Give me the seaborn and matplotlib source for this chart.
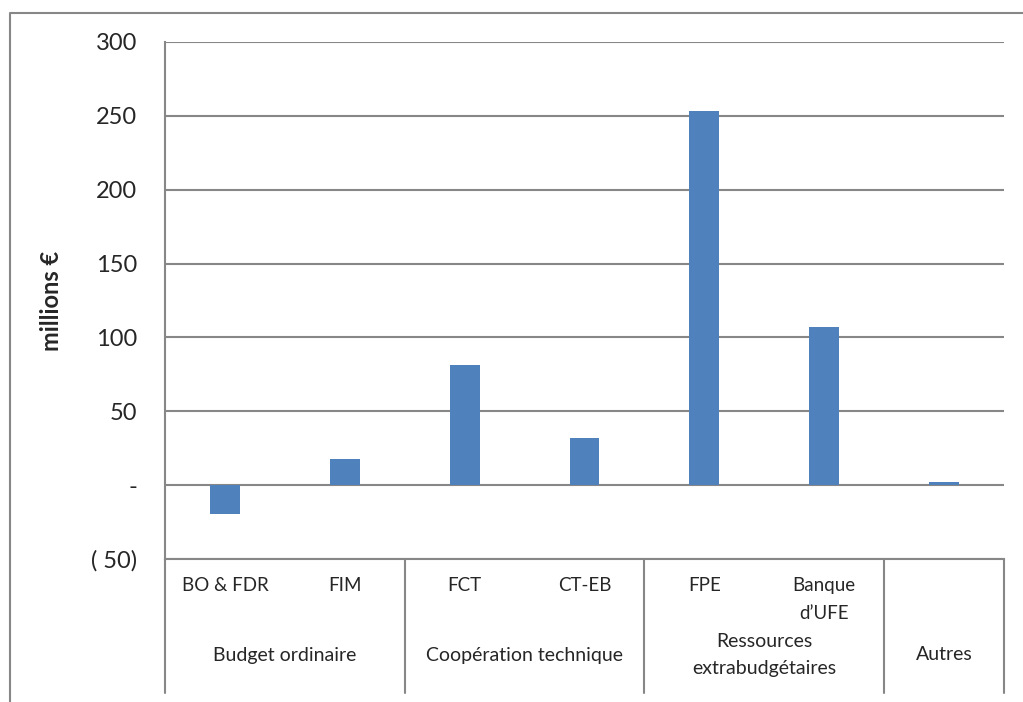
import matplotlib.pyplot as plt
import matplotlib.transforms as mtransforms
import pandas as pd
import seaborn as sns
from matplotlib.lines import Line2D

# chart data
categories = ["BO & FDR", "FIM", "FCT", "CT-EB", "FPE", "Banque\nd\u2019UFE", "Autres"]
tick_names = ["BO & FDR", "FIM", "FCT", "CT-EB", "FPE", "Banque\nd\u2019UFE", ""]
values = [-19.5, 18, 81.5, 32, 253.5, 107, 2]
groups = ["Budget ordinaire", "Coop\u00e9ration technique", "Ressources\nextrabudg\u00e9taires", "Autres"]
group_sizes = [2, 2, 2, 1]
y_ticks = [-50, 0, 50, 100, 150, 200, 250, 300]
y_tick_labels = ["( 50)", "-", "50", "100", "150", "200", "250", "300"]

sns.set_style("white")
plt.rcParams["font.family"] = ["Lato", "DejaVu Sans"]

grey = "#878787"
bar_color = "#4F81BD"

W, H = 1023, 702
fig = plt.figure(figsize=(W / 100, H / 100), dpi=100)
left, right, top, bottom = 165, 1004, 42, 559
ax = fig.add_axes([left / W, 1 - bottom / H, (right - left) / W, (bottom - top) / H])

df = pd.DataFrame({"cat": categories, "val": values})
sns.barplot(data=df, x="cat", y="val", order=categories, color=bar_color,
            width=0.25, saturation=1, linewidth=0, ax=ax)

ax.set_ylim(-50, 300)
ax.set_xlim(-0.5, len(categories) - 0.5)
ax.set_yticks(y_ticks)
ax.set_yticklabels(y_tick_labels, fontsize=17)
ax.set_xticks(range(len(categories)))
ax.set_xticklabels(tick_names, fontsize=13.5, va="top", linespacing=1.75)
ax.tick_params(axis="x", length=0, pad=13)
ax.tick_params(axis="y", length=6, width=1.5, color=grey, pad=14, direction="out")
ax.set_xlabel("")
ax.set_ylabel("millions \u20ac", fontsize=17, fontweight="bold", labelpad=20)

ax.yaxis.grid(True, color=grey, linewidth=1.5)
ax.set_axisbelow(True)
for side in ["top", "right"]:
    ax.spines[side].set_visible(False)
for side in ["left", "bottom"]:
    ax.spines[side].set_color(grey)
    ax.spines[side].set_linewidth(1.5)

# group separators and group labels below the axis
trans = mtransforms.blended_transform_factory(ax.transData, ax.transAxes)
sep_bottom = -(693 - bottom) / (bottom - top)
label_y = -(655 - bottom) / (bottom - top)
start = -0.5
ax.add_line(Line2D([start, start], [0, sep_bottom], transform=trans, color=grey,
                   linewidth=1.5, clip_on=False))
for name, size in zip(groups, group_sizes):
    end = start + size
    ax.add_line(Line2D([end, end], [0, sep_bottom], transform=trans, color=grey,
                       linewidth=1.5, clip_on=False))
    ax.text((start + end) / 2, label_y, name, transform=trans, ha="center", va="center",
            fontsize=14, linespacing=1.75)
    start = end

# outer chart frame (cropped)
fig.add_artist(Line2D([10 / W, 10 / W, 1], [0, 1 - 13 / H, 1 - 13 / H],
                      transform=fig.transFigure, color=grey, linewidth=1.5))

fig.savefig("out.png", dpi=100)
